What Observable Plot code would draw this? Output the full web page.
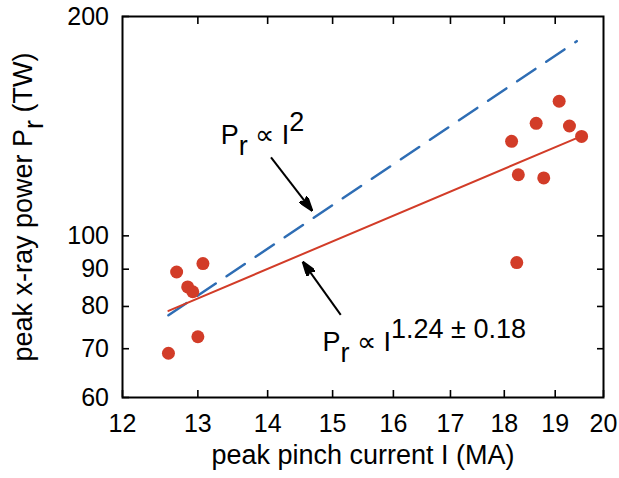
<!DOCTYPE html>
<html><head><meta charset="utf-8">
<script src="https://cdn.jsdelivr.net/npm/d3@7"></script>
<script src="https://cdn.jsdelivr.net/npm/@observablehq/plot@0.6"></script>
<style>
html,body{margin:0;padding:0;background:#fff;}
#chart svg{display:block;}
</style></head><body><div id="chart"></div>
<script>
// measured shots
const currentMA = [12.60, 12.71, 12.86, 12.93, 13.07, 13.00, 18.14, 18.62, 19.08, 19.29, 19.54, 18.27, 18.77, 18.24];
const powerTW   = [69.0, 89.2, 85.1, 83.8, 91.6, 72.7, 134.8, 142.7, 153.0, 141.5, 136.9, 121.3, 120.1, 91.9];
// fit lines (end points)
const fitCurrent = [12.6, 19.44];
const fitPower = [78.9, 136.2];      // P ∝ I^1.24
const squarePower = [77.8, 185.0];   // P ∝ I^2
// ticks
const xTicks = [12, 13, 14, 15, 16, 17, 18, 19, 20];
const yTicks = [60, 70, 80, 90, 100, 200];
const xInnerTicks = [13, 14, 15, 16, 17, 18, 19];
const yInnerTicks = [70, 80, 90, 100];
// annotations
const annoText = ["P_r ∝ I^2", "P_r ∝ I^{1.24 ± 0.18}"];
const annoI = [13.32, 14.84];
const annoP = [133.8, 69.5];
const arrowFromI = [14.05, 15.13];
const arrowFromP = [128.1, 77.9];
const arrowToI = [14.68, 14.53];
const arrowToP = [108.2, 92.2];
const xLabel = "peak pinch current I (MA)";
const yLabel = "peak x-ray power P_r (TW)";

const points = currentMA.map((d, i) => ({I: d, P: powerTW[i]}));
const fitLine = fitCurrent.map((d, i) => ({I: d, P: fitPower[i]}));
const sqLine = fitCurrent.map((d, i) => ({I: d, P: squarePower[i]}));
const annos = annoText.map((t, i) => ({t, I: annoI[i], P: annoP[i]}));
const arrows = arrowFromI.map((d, i) => ({x1: d, y1: arrowFromP[i], x2: arrowToI[i], y2: arrowToP[i]}));

const red = "#d23c28";
const blue = "#2e6db4";

function filledArrow(color) {
  const m = d3.create("svg:marker")
    .attr("viewBox", "-15 -5 15 10")
    .attr("markerUnits", "userSpaceOnUse")
    .attr("markerWidth", 15).attr("markerHeight", 10)
    .attr("refX", 0).attr("refY", 0)
    .attr("orient", "auto");
  m.append("path").attr("d", "M0,0L-15,-5L-12,0L-15,5Z").attr("fill", color);
  return m.node();
}

const fmt = d => String(d);

const svg = Plot.plot({
  width: 619,
  height: 478,
  marginLeft: 122,
  marginRight: 16,
  marginTop: 16,
  marginBottom: 81,
  style: {fontFamily: "'Liberation Sans', Arial, Helvetica, sans-serif", color: "black", background: "white", overflow: "visible"},
  x: {type: "log", domain: [12, 20], label: null},
  y: {type: "log", domain: [60, 200], label: null},
  marks: [
    Plot.line(sqLine, {x: "I", y: "P", stroke: blue, strokeWidth: 2.5, strokeDasharray: "22,13"}),
    Plot.line(fitLine, {x: "I", y: "P", stroke: red, strokeWidth: 2}),
    Plot.dot(points, {x: "I", y: "P", r: 6.5, fill: red, stroke: "none"}),
    Plot.link(arrows, {x1: "x1", y1: "y1", x2: "x2", y2: "y2", stroke: "black", strokeWidth: 2, markerEnd: filledArrow}),
    Plot.text(annos, {x: "I", y: "P", text: "t", textAnchor: "start", lineAnchor: "bottom", fontSize: 27, fill: "black"}),
    Plot.frame({stroke: "black", strokeWidth: 2}),
    Plot.axisX(xTicks, {anchor: "bottom", tickSize: -7, tickPadding: 24, tickFormat: fmt, fontSize: 25, strokeWidth: 1.6, label: null}),
    Plot.axisX(xInnerTicks, {anchor: "top", tickSize: -7, tickFormat: () => "", strokeWidth: 1.6, label: null}),
    Plot.axisY(yTicks, {anchor: "left", tickSize: -7, tickPadding: 20.5, tickFormat: fmt, fontSize: 25, strokeWidth: 1.6, label: null}),
    Plot.axisY(yInnerTicks, {anchor: "right", tickSize: -7, tickFormat: () => "", strokeWidth: 1.6, label: null}),
    Plot.text([xLabel], {text: d => d, frameAnchor: "bottom", dy: 66.5, lineAnchor: "bottom", textAnchor: "middle", fontSize: 27, fill: "black"}),
    Plot.text([yLabel], {text: d => d, frameAnchor: "left", dx: -91, rotate: -90, lineAnchor: "bottom", textAnchor: "middle", fontSize: 27, fill: "black"})
  ]
});

// render TeX-like sub/superscripts as tspans
function texify(root) {
  root.querySelectorAll("text").forEach(t => {
    if (t.querySelector("tspan")) return;
    const s = t.textContent;
    if (!/[_^]/.test(s)) return;
    const parts = [];
    let i = 0, buf = "";
    while (i < s.length) {
      const c = s[i];
      if ((c === "_" || c === "^") && i + 1 < s.length) {
        if (buf) parts.push({t: buf, k: 0});
        buf = "";
        let arg;
        if (s[i + 1] === "{") { const j = s.indexOf("}", i + 2); arg = s.slice(i + 2, j); i = j + 1; }
        else { arg = s[i + 1]; i += 2; }
        parts.push({t: arg, k: c === "_" ? -1 : 1});
      } else { buf += c; i++; }
    }
    if (buf) parts.push({t: buf, k: 0});
    t.textContent = "";
    let cur = 0;
    for (const p of parts) {
      const ts = document.createElementNS("http://www.w3.org/2000/svg", "tspan");
      const target = p.k === -1 ? 0.42 : p.k === 1 ? -0.48 : 0;
      const dy = target - cur;
      cur = target;
      if (dy) ts.setAttribute("dy", dy.toFixed(2) + "em");
      ts.textContent = p.t;
      t.appendChild(ts);
    }
  });
}
texify(svg);
document.getElementById("chart").appendChild(svg);
</script>
</body></html>
